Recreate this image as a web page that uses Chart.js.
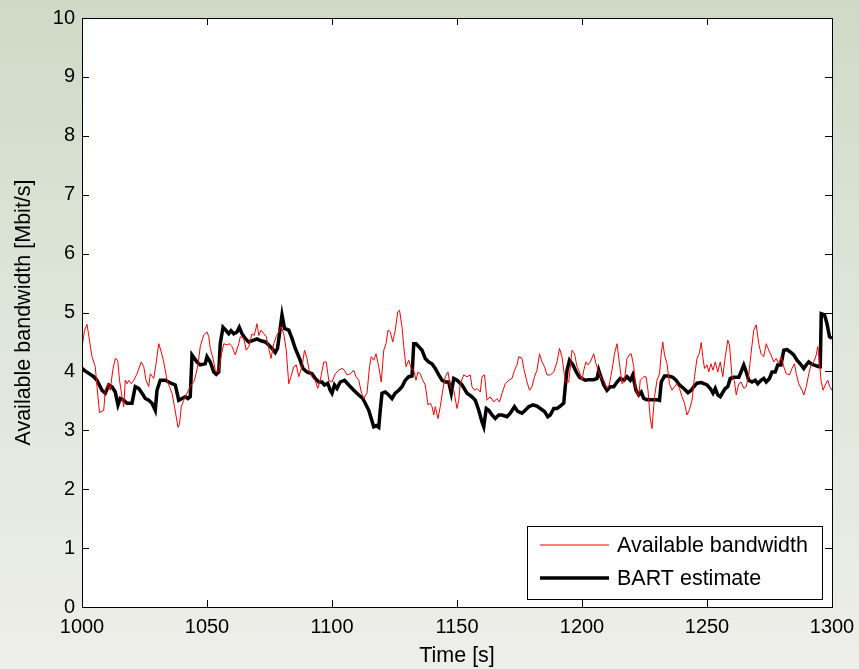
<!DOCTYPE html>
<html>
<head>
<meta charset="utf-8">
<script src="https://cdn.jsdelivr.net/npm/chart.js@4/dist/chart.umd.min.js"></script>
<style>
    html, body { margin: 0; padding: 0; }
    body {
        width: 859px;
        height: 669px;
        background: linear-gradient(to bottom, #cedac6 0%, #dee5d9 45%, #eeeeea 100%);
    }
    #chart-bw { display: block; }
</style>
</head>
<body>
<canvas id="chart-bw" width="859" height="669"></canvas>
<script>
// 軸
var xTicks = [1000, 1050, 1100, 1150, 1200, 1250, 1300];
var yTicks = [0, 1, 2, 3, 4, 5, 6, 7, 8, 9, 10];

// Available bandwidth (red)
var bwTime = [1000, 1001, 1002, 1004, 1005.3, 1006, 1007, 1008.7, 1009.3, 1010.4, 1011.3, 1012.3, 1013.3, 1014.3, 1015, 1016, 1016.7, 1017.3, 1018, 1018.7, 1019.7, 1020.7, 1022, 1023.7, 1024.7, 1025.6, 1026.7, 1027.3, 1028.7, 1029.6, 1030.7, 1031.7, 1032.7, 1034, 1035, 1036, 1037, 1038.4, 1039, 1039.7, 1040.7, 1042, 1043.3, 1045, 1046.4, 1047.3, 1048.7, 1050,
    1050.7, 1051.3, 1052.4, 1053.3, 1054.7, 1055.6, 1056.7, 1058, 1059, 1060, 1061.3, 1062.7, 1063.3, 1064.7, 1065.7, 1066.7, 1068, 1068.9, 1070, 1070.7, 1071.6, 1072.7, 1073.7, 1074.7, 1075.6, 1076.7, 1077.7, 1078.7, 1079.6, 1080.7, 1081.7, 1082.7, 1083.6, 1084.7, 1085.7, 1086.7, 1088, 1089, 1090, 1091, 1092.4, 1093.3, 1094.3, 1095.3, 1096.7, 1097.7, 1098.7, 1100,
    1101.3, 1102.7, 1104, 1105, 1106, 1107.3, 1108.7, 1109.6, 1110.7, 1111.7, 1112.7, 1114, 1115, 1115.7, 1116.7, 1117.6, 1118.7, 1119.7, 1120.7, 1121.6, 1122.4, 1123.3, 1124.3, 1125.3, 1126.3, 1127, 1128, 1128.7, 1129.6, 1130.7, 1131.7, 1132.7, 1133.6, 1134.4, 1135.3, 1136.3, 1137.3, 1138.4, 1139.3, 1140, 1140.7, 1141.3, 1142.4, 1143.3, 1144.3, 1145.3, 1146.4, 1147.3, 1148.7, 1150,
    1150.7, 1151.3, 1152.7, 1154, 1155.3, 1156, 1157, 1158, 1159.3, 1160, 1161, 1162, 1163.3, 1164.7, 1166, 1167, 1168, 1169.3, 1170.7, 1172, 1173, 1174, 1174.7, 1176, 1176.7, 1178, 1179, 1180, 1181, 1182, 1183, 1184, 1185, 1186, 1187.3, 1188.7, 1190, 1191, 1192, 1193.3, 1194.7, 1196, 1197, 1198, 1199, 1200,
    1200.7, 1201.6, 1202.4, 1203.3, 1204.7, 1205.6, 1206.7, 1207.7, 1208.7, 1210, 1210.9, 1212, 1213, 1214, 1215, 1216, 1217, 1218, 1218.9, 1219.7, 1220.7, 1221.6, 1222.7, 1223.3, 1224.7, 1225.6, 1226.4, 1227.3, 1228, 1229, 1230, 1231, 1231.7, 1232.3, 1233, 1234, 1235, 1236, 1237, 1238, 1239, 1240, 1241, 1242, 1242.9, 1244, 1245, 1246, 1246.9, 1247.7, 1248.3, 1249, 1250,
    1250.7, 1251.6, 1252.4, 1253.3, 1254.3, 1255.3, 1256.3, 1257.3, 1258.3, 1259, 1260, 1260.9, 1261.7, 1262.7, 1263.6, 1264.7, 1265.7, 1266.7, 1267.6, 1268.7, 1269.7, 1270.7, 1271.6, 1272.7, 1273.7, 1274.7, 1275.6, 1276.7, 1277.7, 1278.7, 1279.6, 1280.7, 1281.7, 1283, 1284, 1285, 1285.7, 1286.7, 1288, 1288.7, 1289.7, 1290.7, 1291.6, 1292.7, 1293.7, 1294.3, 1295.1, 1295.6, 1296.4, 1297.3, 1298.3, 1299.1, 1300];
var bwValue = [4.40, 4.70, 4.80, 4.25, 4.08, 3.74, 3.30, 3.34, 3.68, 3.79, 3.68, 4.02, 4.22, 4.19, 3.85, 3.57, 3.40, 3.85, 3.79, 3.85, 3.79, 3.85, 3.96, 4.16, 4.08, 3.85, 3.74, 3.96, 3.88, 4.13, 4.47, 4.33, 4.16, 3.85, 3.74, 3.63, 3.40, 3.05, 3.10, 3.40, 3.51, 3.63, 3.74, 3.85, 4.11, 4.42, 4.62, 4.67,
    4.59, 4.39, 4.22, 4.02, 3.99, 4.25, 4.47, 4.45, 4.47, 4.42, 4.28, 4.47, 4.59, 4.56, 4.36, 4.42, 4.64, 4.61, 4.81, 4.61, 4.70, 4.64, 4.59, 4.39, 4.22, 4.47, 4.59, 4.67, 4.76, 4.64, 4.36, 3.79, 3.91, 4.08, 4.11, 3.91, 4.08, 4.36, 4.22, 3.99, 3.88, 3.85, 3.71, 3.85, 4.16, 4.16, 3.85, 3.82,
    3.96, 4.02, 4.05, 4.02, 3.94, 3.96, 4.02, 3.91, 3.85, 3.65, 3.54, 3.63, 4.08, 4.25, 4.19, 4.30, 4.08, 3.82, 4.36, 4.47, 4.70, 4.67, 4.50, 4.70, 5.01, 5.04, 4.76, 4.42, 4.08, 4.19, 4.05, 4.02, 3.85, 3.99, 3.96, 3.85, 3.77, 3.43, 3.46, 3.40, 3.26, 3.40, 3.20, 3.40, 3.68, 3.91, 3.99, 3.74, 3.68, 3.37,
    3.51, 3.79, 3.94, 3.91, 3.94, 3.74, 3.68, 3.71, 3.65, 3.91, 3.94, 3.51, 3.57, 3.48, 3.54, 3.48, 3.63, 3.79, 3.85, 3.88, 4.02, 4.11, 4.25, 4.22, 4.05, 3.82, 3.68, 3.74, 3.91, 4.02, 4.30, 4.16, 4.08, 3.94, 3.94, 3.99, 4.16, 4.39, 4.25, 3.82, 3.82, 4.36, 4.30, 4.08, 3.99, 3.85,
    4.02, 4.16, 4.11, 4.16, 4.30, 4.13, 3.99, 3.88, 3.85, 3.71, 3.77, 4.02, 4.30, 4.47, 4.13, 3.79, 3.85, 4.22, 4.28, 4.30, 4.08, 3.68, 3.57, 3.85, 3.91, 3.91, 3.68, 3.20, 3.03, 3.57, 3.85, 3.96, 4.30, 4.50, 4.28, 4.13, 3.79, 3.68, 3.74, 3.79, 3.71, 3.57, 3.46, 3.26, 3.34, 3.51, 3.91, 4.22, 4.30, 4.49, 4.25, 4.05, 4.11,
    3.99, 4.13, 4.02, 4.16, 3.99, 4.16, 3.91, 4.25, 4.53, 4.45, 3.91, 3.85, 3.60, 3.79, 3.82, 3.71, 3.74, 3.94, 4.30, 4.70, 4.79, 4.47, 4.30, 4.25, 4.47, 4.36, 4.28, 4.16, 4.22, 4.13, 4.25, 4.08, 3.96, 3.94, 4.05, 4.13, 3.96, 3.79, 3.68, 3.60, 3.74, 3.96, 4.11, 4.16, 4.28, 4.42, 4.11, 3.85, 3.68, 3.77, 3.85, 3.74, 3.68];

// BART estimate (black)
var bartTime = [1000, 1001.5, 1003.3, 1004.7, 1006, 1008, 1009.3, 1010.7, 1012, 1013.3, 1014.4, 1015.3, 1016.7, 1018, 1020, 1021.3, 1022.7, 1024, 1025.3, 1026.7, 1028, 1029.3, 1030, 1031.3, 1033.3, 1034.7, 1036, 1037.3, 1038.7, 1040, 1041.3, 1042.4, 1043.3, 1044, 1046, 1047.3, 1049.3, 1050,
    1051.3, 1052.7, 1053.7, 1054.7, 1055.3, 1056.4, 1057.7, 1058.7, 1059.6, 1060.7, 1062, 1062.9, 1064, 1065.3, 1066.7, 1068.7, 1070, 1071.6, 1073.3, 1074.7, 1076, 1077.3, 1078.2, 1079, 1080, 1081, 1082.7, 1084, 1085.3, 1087, 1088.4, 1090, 1092, 1093.3, 1094.7, 1096, 1097, 1098.3, 1099.3, 1100,
    1101, 1102, 1103.3, 1105, 1106.7, 1108.7, 1110.7, 1112.3, 1113.3, 1114.7, 1115.7, 1116.7, 1117.7, 1118.7, 1119.3, 1120, 1121.3, 1122.7, 1124, 1125.3, 1126.7, 1128, 1129.3, 1130.7, 1132, 1132.7, 1133.6, 1134.7, 1136, 1137.3, 1138.7, 1140, 1141.3, 1142.7, 1144, 1145.3, 1146.7, 1147.7, 1148.7, 1150,
    1152, 1154, 1156, 1157.3, 1158.7, 1160, 1160.7, 1161.7, 1162.7, 1164, 1165.3, 1166.7, 1168, 1170, 1171.3, 1173, 1174.3, 1176, 1177.3, 1178.7, 1180.4, 1182, 1183.3, 1185, 1186.3, 1187.3, 1188.7, 1190, 1191.3, 1192.7, 1193.3, 1194, 1195, 1196.4, 1197.7, 1199, 1200,
    1201.3, 1202.7, 1204.7, 1206, 1206.7, 1207.3, 1208.7, 1210, 1211.3, 1212.7, 1214, 1215.3, 1216.7, 1218, 1219.3, 1220.3, 1221.6, 1222.7, 1223.7, 1224.7, 1226, 1228, 1230, 1231, 1231.7, 1233, 1234.7, 1236.3, 1237.6, 1239, 1240.7, 1242.4, 1243.7, 1244.7, 1246, 1247.7, 1249, 1250,
    1251.3, 1252.4, 1253.3, 1254.3, 1255.3, 1256.4, 1257.3, 1258.3, 1259.3, 1260.7, 1262.7, 1263.6, 1264.7, 1265.7, 1266.7, 1268, 1269.3, 1270.3, 1271.6, 1272.7, 1273.7, 1275, 1276, 1277.3, 1278.3, 1279.6, 1280.7, 1282, 1283.3, 1284.7, 1286, 1287.3, 1288.7, 1289.7, 1290.7, 1291.6, 1292.7, 1294.7, 1295.3, 1295.7, 1297, 1298, 1299, 1300];
var bartValue = [4.05, 4.00, 3.95, 3.91, 3.85, 3.68, 3.63, 3.77, 3.74, 3.65, 3.43, 3.54, 3.51, 3.46, 3.46, 3.74, 3.71, 3.63, 3.54, 3.51, 3.46, 3.34, 3.68, 3.85, 3.85, 3.82, 3.79, 3.77, 3.51, 3.54, 3.57, 3.54, 3.57, 4.28, 4.16, 4.11, 4.13, 4.25,
    4.16, 3.99, 3.95, 3.99, 4.47, 4.75, 4.69, 4.64, 4.69, 4.64, 4.67, 4.75, 4.64, 4.56, 4.50, 4.53, 4.55, 4.52, 4.50, 4.45, 4.39, 4.32, 4.39, 4.64, 4.96, 4.73, 4.70, 4.56, 4.39, 4.22, 4.05, 3.99, 3.96, 3.88, 3.82, 3.82, 3.77, 3.80, 3.68, 3.63,
    3.77, 3.71, 3.82, 3.85, 3.77, 3.68, 3.60, 3.54, 3.46, 3.34, 3.20, 3.06, 3.08, 3.05, 3.34, 3.63, 3.65, 3.60, 3.54, 3.63, 3.68, 3.74, 3.85, 3.91, 3.92, 4.47, 4.47, 4.42, 4.36, 4.22, 4.16, 4.13, 4.05, 3.94, 3.85, 3.82, 3.82, 3.63, 3.88, 3.85,
    3.77, 3.63, 3.57, 3.51, 3.34, 3.14, 3.06, 3.37, 3.34, 3.26, 3.20, 3.26, 3.26, 3.23, 3.29, 3.40, 3.32, 3.29, 3.34, 3.40, 3.43, 3.41, 3.37, 3.32, 3.23, 3.26, 3.37, 3.37, 3.41, 3.46, 3.74, 4.02, 4.19, 4.11, 3.99, 3.90, 3.88,
    3.85, 3.86, 3.86, 3.88, 4.02, 3.94, 3.77, 3.68, 3.74, 3.74, 3.82, 3.88, 3.85, 3.91, 3.85, 3.94, 3.68, 3.60, 3.65, 3.54, 3.52, 3.52, 3.52, 3.51, 3.82, 3.92, 3.92, 3.90, 3.85, 3.77, 3.71, 3.64, 3.68, 3.74, 3.80, 3.81, 3.79, 3.77,
    3.71, 3.63, 3.71, 3.60, 3.57, 3.65, 3.71, 3.74, 3.88, 3.90, 3.90, 3.99, 4.11, 3.99, 3.85, 3.82, 3.85, 3.79, 3.85, 3.88, 3.82, 3.88, 3.99, 3.99, 4.11, 4.11, 4.36, 4.37, 4.33, 4.28, 4.19, 4.13, 4.05, 4.11, 4.16, 4.13, 4.11, 4.08, 4.08, 4.98, 4.96, 4.81, 4.59, 4.56];

var FONT = "'Liberation Sans', Arial, sans-serif";

function toPoints(xs, ys) {
    var out = [];
    for (var i = 0; i < xs.length; i++) {
        out.push({ x: xs[i], y: ys[i] });
    };
    return out;
};

// 白い描画領域・枠・内向きの目盛り・凡例
var matlabAxes = {
    id: "matlabAxes",
    beforeDatasetsDraw: function (chart) {
        var a = chart.chartArea;
        var ctx = chart.ctx;
        ctx.save();
        ctx.fillStyle = "#ffffff";
        ctx.fillRect(a.left, a.top, a.right - a.left, a.bottom - a.top);
        ctx.restore();
    },
    afterDatasetsDraw: function (chart) {
        var a = chart.chartArea;
        var ctx = chart.ctx;
        var sx = chart.scales.x;
        var sy = chart.scales.y;
        var len = 7;
        ctx.save();
        ctx.strokeStyle = "#000000";
        ctx.lineWidth = 1;
        ctx.beginPath();
        xTicks.forEach(function (v) {
            var px = Math.round(sx.getPixelForValue(v)) + 0.5;
            ctx.moveTo(px, a.bottom);
            ctx.lineTo(px, a.bottom - len);
            ctx.moveTo(px, a.top);
            ctx.lineTo(px, a.top + len);
        });
        yTicks.forEach(function (v) {
            var py = Math.round(sy.getPixelForValue(v)) + 0.5;
            ctx.moveTo(a.left, py);
            ctx.lineTo(a.left + len, py);
            ctx.moveTo(a.right, py);
            ctx.lineTo(a.right - len, py);
        });
        ctx.stroke();
        ctx.strokeRect(Math.round(a.left) + 0.5, Math.round(a.top) + 0.5, Math.round(a.right - a.left), Math.round(a.bottom - a.top));

        // 凡例
        var boxRight = a.right - 10;
        var boxBottom = a.bottom - 8;
        var boxW = 295;
        var boxH = 73;
        var bx = boxRight - boxW;
        var by = boxBottom - boxH;
        ctx.fillStyle = "#ffffff";
        ctx.fillRect(bx, by, boxW, boxH);
        ctx.strokeRect(Math.round(bx) + 0.5, Math.round(by) + 0.5, boxW, boxH);
        ctx.font = "21.5px " + FONT;
        ctx.textBaseline = "middle";
        ctx.textAlign = "left";
        chart.data.datasets.forEach(function (ds, i) {
            var ly = by + 19 + i * 33;
            ctx.beginPath();
            ctx.strokeStyle = ds.borderColor;
            ctx.lineWidth = ds.borderWidth;
            ctx.moveTo(bx + 13, ly);
            ctx.lineTo(bx + 82, ly);
            ctx.stroke();
            ctx.fillStyle = "#000000";
            ctx.fillText(ds.label, bx + 90, ly + 1);
        });
        ctx.restore();
    }
};

new Chart("chart-bw", {
    type: "line",
    data: {
        datasets: [{
            label: "Available bandwidth",
            data: toPoints(bwTime, bwValue),
            borderColor: "#ff0000",
            borderWidth: 1,
            pointRadius: 0,
            tension: 0
        },
        {
            label: "BART estimate",
            data: toPoints(bartTime, bartValue),
            borderColor: "#000000",
            borderWidth: 3.5,
            pointRadius: 0,
            tension: 0
        }]
    },
    options: {
        responsive: false,
        animation: false,
        events: [],
        layout: { padding: { left: 0, top: 18, right: 27, bottom: 0 } },
        plugins: {
            legend: { display: false },
            tooltip: { enabled: false }
        },
        scales: {
            x: {
                type: "linear",
                min: 1000,
                max: 1300,
                afterBuildTicks: function (s) {
                    s.ticks = xTicks.map(function (v) { return { value: v }; });
                },
                afterFit: function (s) {
                    s.height = 62;
                    s.paddingLeft = 0;
                    s.paddingRight = 0;
                },
                grid: { display: false, drawTicks: false },
                border: { display: false },
                ticks: {
                    color: "#000000",
                    padding: 8,
                    maxRotation: 0,
                    autoSkip: false,
                    callback: function (v) { return String(v); },
                    font: { family: FONT, size: 20 }
                },
                title: {
                    display: true,
                    text: "Time [s]",
                    color: "#000000",
                    padding: { top: 0, bottom: 0 },
                    font: { family: FONT, size: 21.5 }
                }
            },
            y: {
                type: "linear",
                min: 0,
                max: 10,
                afterBuildTicks: function (s) {
                    s.ticks = yTicks.map(function (v) { return { value: v }; });
                },
                afterFit: function (s) {
                    s.width = 82;
                    s.paddingTop = 0;
                    s.paddingBottom = 0;
                },
                grid: { display: false, drawTicks: false },
                border: { display: false },
                ticks: {
                    color: "#000000",
                    padding: 7,
                    autoSkip: false,
                    callback: function (v) { return String(v); },
                    font: { family: FONT, size: 20 }
                },
                title: {
                    display: true,
                    text: "Available bandwidth [Mbit/s]",
                    color: "#000000",
                    padding: { top: 11, bottom: 0 },
                    font: { family: FONT, size: 21.5 }
                }
            }
        }
    },
    plugins: [matlabAxes]
});
</script>
</body>
</html>
